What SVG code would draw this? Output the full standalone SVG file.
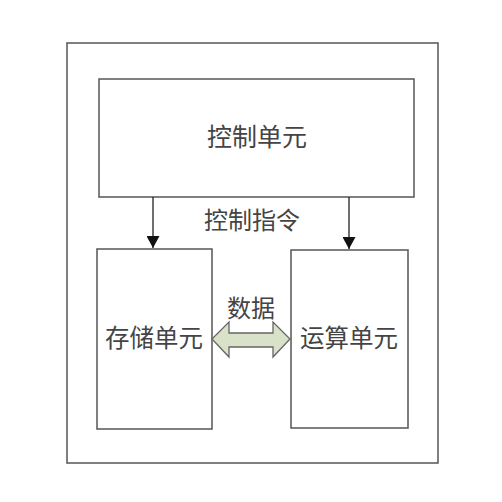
<svg xmlns="http://www.w3.org/2000/svg" width="502" height="502" viewBox="0 0 502 502">
<defs>
<style>
.box{fill:#ffffff;stroke:#555555;stroke-width:1.5}
.lbl{font-family:"Liberation Sans","Noto Sans CJK SC",sans-serif;fill:#444444;text-anchor:middle;dominant-baseline:central}
.conn{stroke:#222222;stroke-width:1.3;fill:none}
</style>
<marker id="arr" viewBox="0 0 12 13" refX="12" refY="6.5" markerWidth="12" markerHeight="13" markerUnits="userSpaceOnUse" orient="auto">
<path d="M0,0 L12,6.5 L0,13 Z" fill="#111111"/>
</marker>
</defs>
<rect width="502" height="502" fill="#ffffff"/>
<g id="outer"><rect class="box" x="67" y="43" width="371" height="420"/></g>
<g id="control-unit">
<rect class="box" x="99" y="79" width="315" height="118"/>
<text class="lbl" x="257" y="137" font-size="25">控制单元</text>
</g>
<g id="storage-unit">
<rect class="box" x="97" y="249" width="115" height="180"/>
<text class="lbl" x="154" y="338" font-size="24.5">存储单元</text>
</g>
<g id="compute-unit">
<rect class="box" x="291" y="250" width="117" height="178"/>
<text class="lbl" x="349" y="338" font-size="24.5">运算单元</text>
</g>
<g id="connectors">
<line class="conn" x1="153" y1="197" x2="153" y2="248" marker-end="url(#arr)"/>
<line class="conn" x1="349" y1="197" x2="349" y2="249" marker-end="url(#arr)"/>
<text class="lbl" x="252" y="220" font-size="24">控制指令</text>
<path d="M212,339 L229,322 L229,333 L273,333 L273,322 L290,339 L273,357 L273,347 L229,347 L229,357 Z" fill="#d9e2c9" stroke="#666666" stroke-width="1.3"/>
<text class="lbl" x="251" y="308" font-size="24">数据</text>
</g>
</svg>
